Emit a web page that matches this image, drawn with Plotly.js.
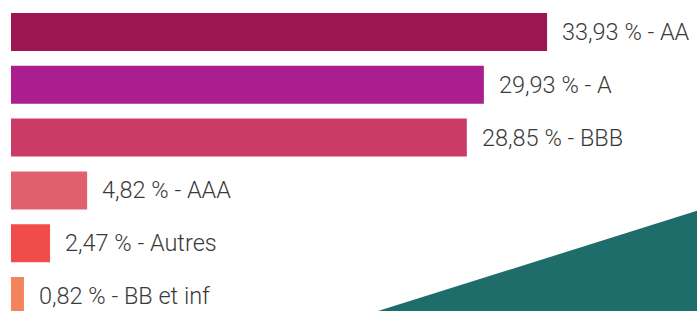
<!DOCTYPE html>
<html>
<head>
<meta charset="utf-8">
<script src="https://cdn.plot.ly/plotly-3.0.1.min.js"></script>
<style>
html,body{margin:0;padding:0;background:#fff;}
#chart{width:697px;height:311px;}
</style>
</head>
<body>
<div id="chart"></div>
<script>
const ratings = ["AA", "A", "BBB", "AAA", "Autres", "BB et inf"];
const values = [33.93, 29.93, 28.85, 4.82, 2.47, 0.82];
const barColors = ["#9C1652", "#AA1F8D", "#CA3C65", "#E0606F", "#F04C4A", "#F4845E"];
const labels = values.map((v, i) => v.toFixed(2).replace('.', ',') + ' % - ' + ratings[i]);

const trace = {
  type: 'bar',
  orientation: 'h',
  y: ratings,
  x: values,
  marker: {color: barColors},
  hoverinfo: 'none'
};

const annotations = values.map((v, i) => ({
  x: v, y: ratings[i], xref: 'x', yref: 'y',
  text: labels[i], showarrow: false,
  xanchor: 'left', yanchor: 'middle', xshift: 13,
  font: {family: 'Roboto', weight: 300, size: 23.5, color: '#3a3a3a'}
}));

const layout = {
  width: 697, height: 311,
  margin: {l: 11, r: 0, t: 0, b: 0, pad: 0},
  paper_bgcolor: '#ffffff', plot_bgcolor: '#ffffff',
  showlegend: false,
  bargap: 0.28,
  xaxis: {range: [0, 43.42], visible: false, fixedrange: true},
  yaxis: {type: 'category', range: [5.284, -0.606], visible: false, fixedrange: true},
  annotations: annotations,
  shapes: [{
    type: 'path', xref: 'paper', yref: 'paper',
    path: 'M 0.535 0 L 1 0.322 L 1 0 Z',
    fillcolor: '#1E6D6B', line: {width: 0}, layer: 'above'
  }]
};

Plotly.newPlot('chart', [trace], layout, {displayModeBar: false, staticPlot: true});
</script>
</body>
</html>
